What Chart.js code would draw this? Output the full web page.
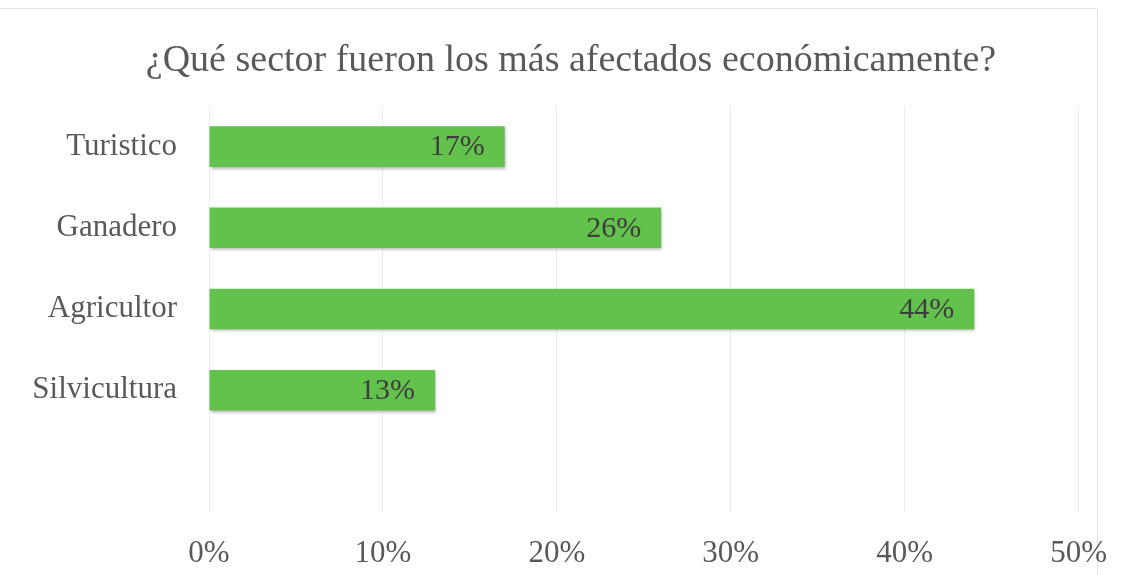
<!DOCTYPE html>
<html>
<head>
<meta charset="utf-8">
<script src="https://cdn.jsdelivr.net/npm/chart.js@4/dist/chart.umd.min.js"></script>
<style>
html,body{margin:0;padding:0;background:#fff;}
#wrap{width:1130px;height:575px;position:relative;}
</style>
</head>
<body>
<div id="wrap"><canvas id="c" width="1130" height="575"></canvas></div>
<script>
const titleText = '¿Qué sector fueron los más afectados económicamente?';
const categories = ['Turistico', 'Ganadero', 'Agricultor', 'Silvicultura', ''];
const percentages = [17, 26, 44, 13, null];
const xTicks = [0, 10, 20, 30, 40, 50];

const serif = '"Liberation Serif", "DejaVu Serif", serif';

const frame = {
  id: 'frame',
  beforeDraw(chart) {
    const ctx = chart.ctx;
    ctx.save();
    ctx.fillStyle = '#fff';
    ctx.fillRect(0, 0, chart.width, chart.height);
    ctx.strokeStyle = '#e4e4e4';
    ctx.lineWidth = 1;
    ctx.beginPath();
    ctx.moveTo(0, 8.5); ctx.lineTo(1097.5, 8.5);
    ctx.moveTo(1097.5, 8.5); ctx.lineTo(1097.5, 575);
    ctx.stroke();
    ctx.restore();
  }
};

const titleDraw = {
  id: 'titleDraw',
  afterDraw(chart) {
    const ctx = chart.ctx;
    ctx.save();
    ctx.font = '38px ' + serif;
    ctx.fillStyle = '#595959';
    ctx.textAlign = 'center';
    ctx.textBaseline = 'middle';
    ctx.fillText(titleText, 571, 61);
    ctx.restore();
  }
};

const shadow = {
  id: 'shadow',
  beforeDatasetDraw(chart) {
    const ctx = chart.ctx;
    ctx.save();
    ctx.shadowColor = 'rgba(0,0,0,0.3)';
    ctx.shadowBlur = 3;
    ctx.shadowOffsetY = 2;
    ctx.shadowOffsetX = 1;
  },
  afterDatasetDraw(chart) {
    chart.ctx.restore();
  }
};

const labels = {
  id: 'barLabels',
  afterDatasetsDraw(chart) {
    const ctx = chart.ctx;
    const meta = chart.getDatasetMeta(0);
    ctx.save();
    ctx.font = '30px ' + serif;
    ctx.fillStyle = '#3d3d3d';
    ctx.textAlign = 'right';
    ctx.textBaseline = 'middle';
    meta.data.forEach((bar, i) => {
      const v = percentages[i];
      if (v === null || v === undefined) return;
      ctx.fillText(v + '%', bar.x - 20, bar.y + 1);
    });
    ctx.restore();
  }
};

new Chart(document.getElementById('c'), {
  type: 'bar',
  data: {
    labels: categories,
    datasets: [{
      data: percentages,
      backgroundColor: '#62c24c',
      borderWidth: 0,
      categoryPercentage: 1,
      barPercentage: 0.5
    }]
  },
  options: {
    indexAxis: 'y',
    responsive: false,
    animation: false,
    devicePixelRatio: 1,
    layout: { padding: { left: 0, right: 49, top: 106, bottom: 0 } },
    plugins: {
      legend: { display: false },
      tooltip: { enabled: false },
      title: { display: false }
    },
    scales: {
      x: {
        min: 0,
        max: 50,
        afterBuildTicks(scale) { scale.ticks = xTicks.map(v => ({ value: v })); },
        afterFit(scale) { scale.height = 63; },
        grid: { color: '#ececec', drawTicks: false, lineWidth: 1 },
        border: { display: false },
        ticks: {
          color: '#595959',
          padding: 23,
          font: { family: serif, size: 31 },
          callback: v => v + '%'
        }
      },
      y: {
        afterFit(scale) { scale.width = 209; },
        grid: { display: false, drawTicks: false },
        border: { display: false },
        ticks: {
          color: '#595959',
          padding: 32,
          font: { family: serif, size: 31 }
        }
      }
    }
  },
  plugins: [frame, shadow, labels, titleDraw]
});
</script>
</body>
</html>
